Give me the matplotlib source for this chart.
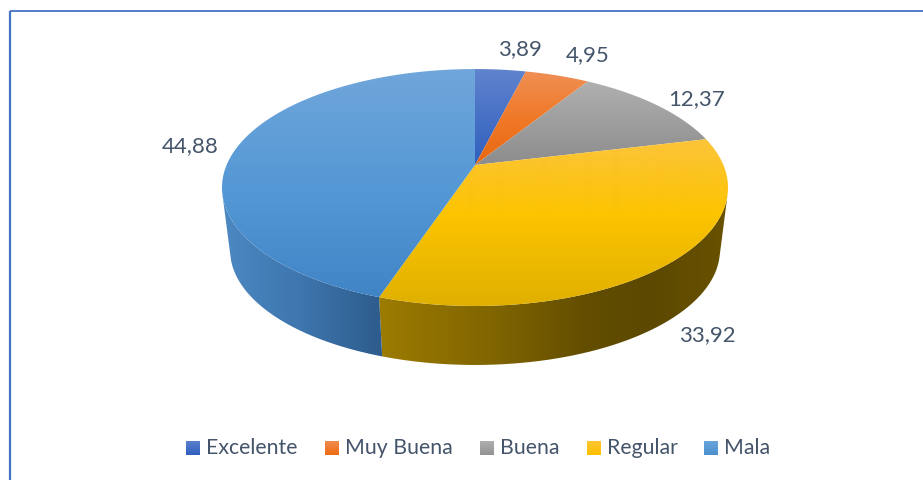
import numpy as np
import matplotlib
matplotlib.use("Agg")
import matplotlib.pyplot as plt
from matplotlib.patches import PathPatch, Rectangle
from matplotlib.path import Path

categories = ["Excelente", "Muy Buena", "Buena", "Regular", "Mala"]
values = [3.89, 4.95, 12.37, 33.92, 44.88]

# styling
TEXT = "#44546A"
LINE = "#4472C4"
top_grad = [
    [(69, (96, 131, 205)), (165, (47, 95, 190))],
    [(72, (239, 143, 84)), (120, (240, 120, 38)), (165, (232, 104, 16))],
    [(81, (176, 176, 176)), (165, (140, 140, 140))],
    [(139, (252, 196, 58)), (215, (252, 196, 0)), (306, (224, 176, 0))],
    [(69, (112, 166, 219)), (190, (84, 152, 213)), (300, (64, 132, 198))],
]
wall_grad = {
    3: [(382, (156, 123, 0)), (500, (126, 99, 0)), (590, (98, 77, 0)), (650, (92, 72, 0)), (725, (104, 82, 0))],
    4: [(225, (76, 136, 194)), (300, (62, 118, 174)), (382, (45, 92, 140))],
}
swatch_grad = [
    ((91, 128, 204), (47, 95, 190)),
    ((240, 140, 80), (238, 106, 16)),
    ((176, 176, 176), (146, 146, 146)),
    ((254, 198, 50), (250, 192, 0)),
    ((106, 164, 218), (76, 144, 208)),
]
label_xy = [(520, 49), (588, 55), (697, 99), (707, 335), (190, 146)]
legend_swatch_x = [186, 325, 480, 587, 704]

# perspective projection of the pie disc
A, B, P, CX, CY = 248.4, 114.2, 0.19, 475.0, 165.0
SCALE, DROP = 0.968, 63.5


def rim(theta, lower=False):
    u, v = np.sin(theta), -np.cos(theta)
    d = 1 - P * v
    x, y = A * u / d, B * v / d
    if lower:
        return CX + SCALE * x, CY + DROP + SCALE * y
    return CX + x, CY + y


# angle where the wall's straight silhouette touches the rim (right side)
_t = np.linspace(np.pi / 4, np.pi * 3 / 4, 4000)
_x1, _y1 = rim(_t)
_x2, _y2 = rim(_t, lower=True)
_cross = (_x2 - _x1) * np.gradient(_y1) - (_y2 - _y1) * np.gradient(_x1)
TANGENT = _t[np.argmin(np.abs(_cross))]
FRONT = (TANGENT, 2 * np.pi - TANGENT)


def grad_rows(stops):
    ys = np.array([s[0] for s in stops], float)
    cs = np.array([s[1] for s in stops], float) / 255
    rows = np.arange(0, 480) + 0.5
    return np.stack([np.interp(rows, ys, cs[:, i]) for i in range(3)], axis=1)[:, None, :]


def grad_cols(stops):
    xs = np.array([s[0] for s in stops], float)
    cs = np.array([s[1] for s in stops], float) / 255
    cols = np.arange(0, 923) + 0.5
    return np.stack([np.interp(cols, xs, cs[:, i]) for i in range(3)], axis=1)[None, :, :]


plt.rcParams["font.family"] = ["Lato", "DejaVu Sans"]
fig = plt.figure(figsize=(9.23, 4.80), dpi=100, facecolor="white")
ax = fig.add_axes([0, 0, 1, 1])
ax.set_axis_off()


def painted(xy, img, z):
    patch = PathPatch(Path(np.column_stack(xy)), fc="none", ec="none", transform=ax.transData)
    ax.add_patch(patch)
    im = ax.imshow(img, extent=(0, 923, 480, 0), aspect="auto", zorder=z, interpolation="bilinear")
    im.set_clip_path(patch)


fracs = np.array(values) / sum(values)
edges = np.concatenate([[0], np.cumsum(fracs)]) * 2 * np.pi

# side walls (front part only, closed by the straight silhouette)
for i in wall_grad:
    th = np.linspace(max(edges[i], FRONT[0]), min(edges[i + 1], FRONT[1]), 300)
    x1, y1 = rim(th)
    x2, y2 = rim(th[::-1], lower=True)
    painted((np.r_[x1, x2, x1[0]], np.r_[y1, y2, y1[0]]), grad_cols(wall_grad[i]), 2)

# top faces
for i in range(len(values)):
    th = np.linspace(edges[i], edges[i + 1], 300)
    x, y = rim(th)
    painted((np.r_[CX, x, CX], np.r_[CY, y, CY]), grad_rows(top_grad[i]), 3)

# value labels
for val, (lx, ly) in zip(values, label_xy):
    ax.text(lx, ly, f"{val:.2f}".replace(".", ","), color=TEXT, fontsize=16,
            ha="center", va="center", zorder=5)

# legend
for name, sx, (c0, c1) in zip(categories, legend_swatch_x, swatch_grad):
    r = Rectangle((sx, 441), 14, 14, fc="none", ec="none")
    ax.add_patch(r)
    img = grad_rows([(441, c0), (455, c1)])
    im = ax.imshow(img, extent=(0, 923, 480, 0), aspect="auto", zorder=4)
    im.set_clip_path(r)
    ax.text(sx + 20, 454, name, color=TEXT, fontsize=15.3, ha="left", va="baseline", zorder=5)

# frame lines
ax.plot([10, 10], [10.5, 480], color=LINE, lw=1.6, solid_capstyle="butt", zorder=6)
ax.plot([9.5, 923], [10.7, 10.7], color=LINE, lw=1.3, solid_capstyle="butt", zorder=6)

ax.set_xlim(0, 923)
ax.set_ylim(480, 0)
fig.savefig("out.png", dpi=100, facecolor="white")
